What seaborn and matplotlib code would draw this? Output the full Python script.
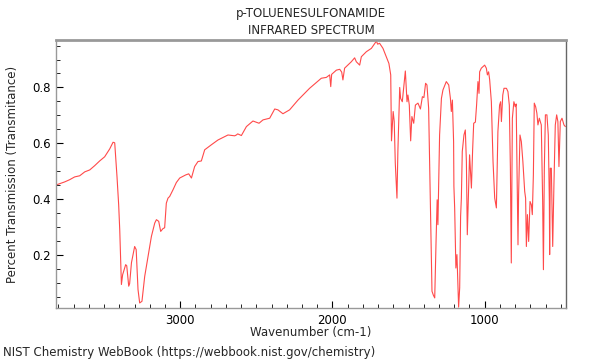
import matplotlib
matplotlib.use("Agg")
import matplotlib.pyplot as plt
from matplotlib.ticker import MultipleLocator
import seaborn as sns
import pandas as pd

title = "p-TOLUENESULFONAMIDE\nINFRARED SPECTRUM"
x_label = "Wavenumber (cm-1)"
y_label = "Percent Transmission (Transmitance)"
credit = "NIST Chemistry WebBook (https://webbook.nist.gov/chemistry)"

wavenumber = [
    3811, 3759, 3726, 3693, 3660, 3627, 3594, 3562, 3529, 3496, 3463, 3441, 3430,
    3415, 3404, 3397, 3386, 3378, 3358, 3351, 3338, 3332, 3320, 3299, 3289, 3277,
    3266, 3251, 3233, 3211, 3189, 3167, 3156, 3141, 3128, 3113, 3102, 3091, 3080,
    3069, 3047, 3025, 3003, 2964, 2944, 2926, 2905, 2883, 2861, 2839, 2795, 2752,
    2686, 2642, 2631, 2622, 2598, 2565, 2522, 2482, 2456, 2412, 2379, 2358, 2325,
    2281, 2226, 2150, 2073, 2040, 2018, 2011, 2005, 1974, 1952, 1939, 1931, 1920,
    1876, 1854, 1843, 1821, 1810, 1777, 1744, 1729, 1711, 1703, 1690, 1668, 1646,
    1629, 1617, 1615, 1612, 1601, 1594, 1587, 1576, 1570, 1558, 1552, 1541, 1530,
    1521, 1510, 1504, 1495, 1486, 1478, 1466, 1455, 1438, 1422, 1409, 1399, 1388,
    1379, 1368, 1361, 1355, 1346, 1337, 1328, 1319, 1312, 1307, 1296, 1284, 1274,
    1252, 1236, 1225, 1219, 1212, 1204, 1202, 1197, 1189, 1182, 1175, 1171, 1164,
    1158, 1153, 1147, 1136, 1127, 1120, 1114, 1105, 1099, 1092, 1087, 1079, 1072,
    1061, 1053, 1044, 1037, 1033, 1022, 1000, 989, 982, 974, 967, 956, 945, 934,
    923, 913, 902, 895, 890, 881, 873, 857, 847, 838, 831, 825, 818, 808, 799, 793,
    785, 781, 777, 768, 759, 749, 737, 731, 726, 719, 711, 702, 693, 687, 680, 674,
    665, 657, 650, 641, 628, 619, 614, 608, 601, 591, 582, 575, 573, 569, 562, 553,
    545, 536, 527, 519, 512, 503, 492, 479, 470,
]
transmittance = [
    0.452, 0.462, 0.470, 0.480, 0.484, 0.498, 0.505, 0.520, 0.537, 0.552, 0.580, 0.604, 0.602,
    0.481, 0.380, 0.291, 0.095, 0.130, 0.166, 0.162, 0.089, 0.098, 0.173, 0.231, 0.220, 0.077,
    0.029, 0.035, 0.124, 0.196, 0.267, 0.315, 0.327, 0.321, 0.285, 0.295, 0.298, 0.386, 0.404,
    0.410, 0.434, 0.460, 0.476, 0.487, 0.491, 0.476, 0.517, 0.535, 0.537, 0.577, 0.595, 0.612,
    0.630, 0.627, 0.630, 0.634, 0.628, 0.660, 0.680, 0.672, 0.684, 0.690, 0.723, 0.720, 0.706,
    0.720, 0.755, 0.797, 0.833, 0.836, 0.845, 0.803, 0.847, 0.862, 0.865, 0.855, 0.827, 0.869,
    0.892, 0.906, 0.892, 0.880, 0.910, 0.928, 0.940, 0.952, 0.966, 0.955, 0.958, 0.940, 0.910,
    0.886, 0.845, 0.749, 0.609, 0.714, 0.678, 0.529, 0.404, 0.571, 0.800, 0.761, 0.749, 0.809,
    0.859, 0.749, 0.773, 0.737, 0.609, 0.696, 0.672, 0.737, 0.744, 0.723, 0.767, 0.764, 0.815,
    0.809, 0.726, 0.511, 0.309, 0.071, 0.057, 0.047, 0.255, 0.398, 0.309, 0.630, 0.761, 0.791,
    0.821, 0.809, 0.761, 0.714, 0.755, 0.606, 0.446, 0.369, 0.154, 0.202, 0.084, 0.014, 0.084,
    0.339, 0.404, 0.571, 0.630, 0.648, 0.535, 0.273, 0.452, 0.559, 0.487, 0.440, 0.577, 0.672,
    0.676, 0.737, 0.821, 0.779, 0.856, 0.869, 0.880, 0.869, 0.845, 0.856, 0.827, 0.749, 0.535, 0.404,
    0.369, 0.642, 0.737, 0.749, 0.678, 0.773, 0.797, 0.797, 0.785, 0.737, 0.511, 0.172, 0.690, 0.749, 0.731, 0.741,
    0.392, 0.237, 0.416, 0.630, 0.606, 0.535, 0.428, 0.404, 0.231, 0.345, 0.249, 0.392, 0.380, 0.345, 0.487, 0.744,
    0.731, 0.708, 0.666, 0.690, 0.666, 0.392, 0.148, 0.511, 0.702, 0.702, 0.630, 0.392, 0.202, 0.511, 0.511, 0.231,
    0.452, 0.666, 0.702, 0.678, 0.517, 0.678, 0.690, 0.666, 0.660,
]
x_ticks = [3000, 2000, 1000]
y_ticks = [0.2, 0.4, 0.6, 0.8]

df = pd.DataFrame({"wn": wavenumber, "T": transmittance})

sns.set_style("ticks")
plt.rcParams["font.family"] = ["DejaVu Sans"]

fig = plt.figure(figsize=(6, 3.6), dpi=100)
ax = fig.add_axes([0.0935, 0.1445, 0.8495, 0.7445])
sns.lineplot(data=df, x="wn", y="T", sort=False, estimator=None,
             color="#ff2a2a", linewidth=0.8, alpha=0.85, ax=ax)

ax.set_xlim(3815, 467)
ax.set_ylim(0.011, 0.97)
ax.set_xticks(x_ticks)
ax.set_xticklabels([str(v) for v in x_ticks])
ax.set_yticks(y_ticks)
ax.set_yticklabels([f"{v:.1f}" for v in y_ticks])
ax.xaxis.set_minor_locator(MultipleLocator(100))
ax.yaxis.set_minor_locator(MultipleLocator(0.05))
ax.tick_params(which="both", direction="in", colors="black", labelsize=8.5)
ax.tick_params(which="major", length=5, width=0.8)
ax.tick_params(which="minor", length=3, width=0.6)
ax.tick_params(axis="x", pad=4.5)

for side in ["left", "bottom", "right"]:
    ax.spines[side].set_visible(True)
    ax.spines[side].set_color("#999999")
    ax.spines[side].set_linewidth(1.0)
ax.spines["right"].set_color("#666666")
ax.spines["top"].set_visible(True)
ax.spines["top"].set_color("#999999")
ax.spines["top"].set_linewidth(2.0)

ax.set_xlabel(x_label, fontsize=8.5, labelpad=-1)
ax.set_ylabel(y_label, fontsize=8.5, labelpad=10)
ax.set_title(title, fontsize=8.5, linespacing=1.45, pad=4)
fig.text(0.005, 0.003, credit, fontsize=8.5, ha="left", va="bottom")

fig.savefig("out.png", dpi=100)
